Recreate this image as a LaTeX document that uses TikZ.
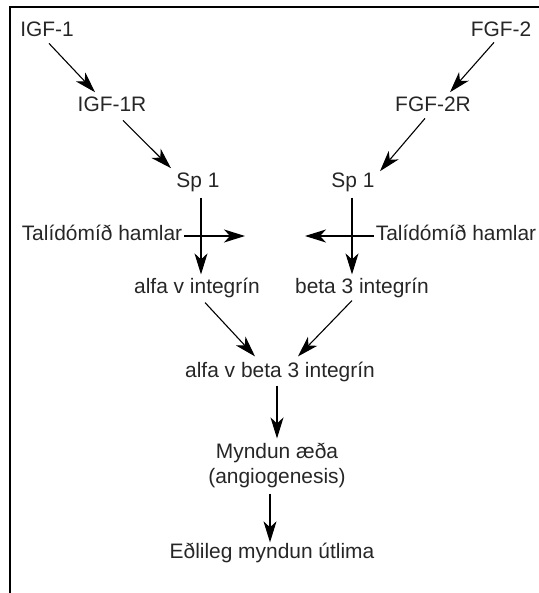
\documentclass[tikz,border=0pt]{standalone}
\usepackage{fontspec}
\setmainfont{Liberation Sans}
\usetikzlibrary{arrows.meta}
\definecolor{txt}{HTML}{262626}
\begin{document}
\begin{tikzpicture}[x=1bp,y=-1bp,
  lbl/.style={font=\fontsize{21}{25}\selectfont, text=txt, inner sep=2bp, anchor=base},
  arr/.style={-{Stealth[length=21bp,width=13bp,inset=6bp]}, line width=1.1bp, draw=black}]
\useasboundingbox (0,0) rectangle (539,593);
\draw[line width=1.3bp] (10,593) -- (10,7) -- (539,7);
\node[lbl] (igf)  at (47,37)  {IGF-1};
\node[lbl] (fgf)  at (501,37) {FGF-2};
\node[lbl] (igfr) at (112,112) {IGF-1R};
\node[lbl] (fgfr) at (433,112) {FGF-2R};
\node[lbl] (spL)  at (198,187) {Sp 1};
\node[lbl] (spR)  at (353,187) {Sp 1};
\node[lbl] (talL) at (102,240) {Talídómíð hamlar};
\node[lbl] (talR) at (456,240) {Talídómíð hamlar};
\node[lbl] (alfa) at (197,293) {alfa v integrín};
\node[lbl] (beta) at (362,293) {beta 3 integrín};
\node[lbl] (ab)   at (280,377) {alfa v beta 3 integrín};
\node[lbl, align=center] (myn) at (277,483) {Myndun æða\\(angiogenesis)};
\node[lbl] (eth)  at (272,558) {Eðlileg myndun útlima};
\coordinate (tipL) at (245,236);
\coordinate (tipR) at (305,236);
\draw[arr] ([shift={(2,4)}]igf.south) -- ([shift={(-17,-3)}]igfr.north);
\draw[arr] ([shift={(-7,3)}]fgf.south) -- ([shift={(17,-3)}]fgfr.north);
\draw[arr] ([shift={(11,6)}]igfr.south) -- ([shift={(-27,-2)}]spL.north);
\draw[arr] ([shift={(-8,4)}]fgfr.south) -- ([shift={(27,1)}]spR.north);
\draw[arr] ([shift={(3,4)}]spL.south) -- ([shift={(4,-1)}]alfa.north);
\draw[arr] ([shift={(-1,4)}]spR.south) -- ([shift={(-10,-1)}]beta.north);
\draw[arr] (talL.east |- tipL) -- (tipL);
\draw[arr] (talR.west |- tipR) -- (tipR);
\draw[arr] ([shift={(8,3)}]alfa.south) -- ([shift={(-25,-3)}]ab.north);
\draw[arr] ([shift={(-10,1)}]beta.south) -- ([shift={(18,-3)}]ab.north);
\draw[arr] ([shift={(-3,2)}]ab.south) -- ([shift={(0,-2)}]myn.north);
\draw[arr] ([shift={(-7,4)}]myn.south) -- ([shift={(-2,2)}]eth.north);
\end{tikzpicture}
\end{document}
